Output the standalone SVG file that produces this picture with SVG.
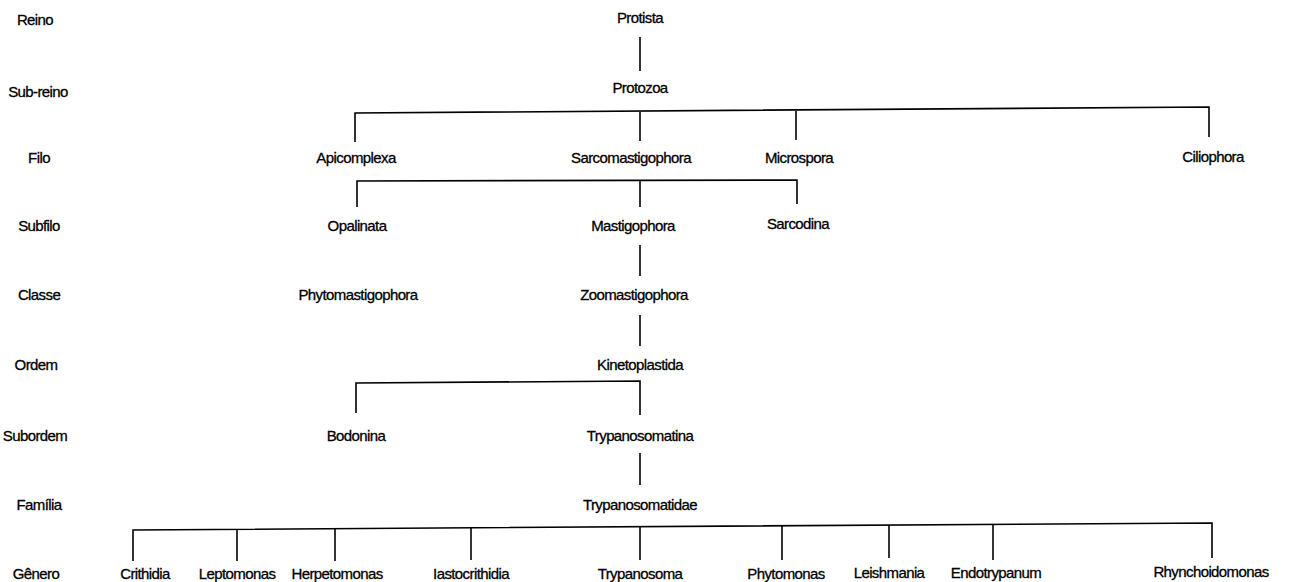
<svg xmlns="http://www.w3.org/2000/svg" width="1289" height="582" viewBox="0 0 1289 582">
  <style>
    text { font-family: "Liberation Sans", Arial, sans-serif; font-size: 15px; letter-spacing: -0.6px; fill: #000; stroke: #000; stroke-width: 0.3; text-anchor: middle; }
    .edge { fill: none; stroke: #000; stroke-width: 1.6; }
  </style>
  <rect width="1289" height="582" fill="#fff"/>

  <!-- rank labels -->
  <g id="ranks">
    <text x="35" y="25">Reino</text>
    <text x="38" y="97">Sub-reino</text>
    <text x="39" y="163">Filo</text>
    <text x="39" y="231">Subfilo</text>
    <text x="39" y="300">Classe</text>
    <text x="36" y="370">Ordem</text>
    <text x="35" y="441">Subordem</text>
    <text x="39" y="510">Família</text>
    <text x="36" y="579">Gênero</text>
  </g>

  <!-- connectors -->
  <g id="connectors" class="edge">
    <line x1="640" y1="37" x2="640" y2="71"/>
    <path d="M355,142 V113 L1209,107 V137"/>
    <line x1="640" y1="112" x2="640" y2="141"/>
    <line x1="796" y1="111" x2="796" y2="140"/>
    <path d="M357,207 V181 L797,180 V204"/>
    <line x1="640" y1="180" x2="640" y2="207"/>
    <line x1="640" y1="245" x2="640" y2="276"/>
    <line x1="640" y1="315" x2="640" y2="346"/>
    <path d="M356,413 V383 L640,381 V415"/>
    <line x1="640" y1="453" x2="640" y2="485"/>
    <path d="M133,561 V530 L1212,523 V558"/>
    <line x1="237" y1="529" x2="237" y2="561"/>
    <line x1="335" y1="529" x2="335" y2="561"/>
    <line x1="471" y1="528" x2="471" y2="560"/>
    <line x1="640" y1="526" x2="640" y2="560"/>
    <line x1="782" y1="526" x2="782" y2="560"/>
    <line x1="889" y1="525" x2="889" y2="558"/>
    <line x1="993" y1="524" x2="993" y2="560"/>
  </g>

  <!-- taxa -->
  <g id="protista"><text x="640" y="23">Protista</text></g>
  <g id="protozoa"><text x="640" y="93">Protozoa</text></g>
  <g id="apicomplexa"><text x="356" y="163">Apicomplexa</text></g>
  <g id="sarcomastigophora"><text x="631" y="163">Sarcomastigophora</text></g>
  <g id="microspora"><text x="799" y="163">Microspora</text></g>
  <g id="ciliophora"><text x="1213" y="162">Ciliophora</text></g>
  <g id="opalinata"><text x="357" y="231">Opalinata</text></g>
  <g id="mastigophora"><text x="633" y="231">Mastigophora</text></g>
  <g id="sarcodina"><text x="798" y="229">Sarcodina</text></g>
  <g id="phytomastigophora"><text x="358" y="300">Phytomastigophora</text></g>
  <g id="zoomastigophora"><text x="634" y="300">Zoomastigophora</text></g>
  <g id="kinetoplastida"><text x="640" y="370">Kinetoplastida</text></g>
  <g id="bodonina"><text x="356" y="441">Bodonina</text></g>
  <g id="trypanosomatina"><text x="640" y="441">Trypanosomatina</text></g>
  <g id="trypanosomatidae"><text x="640" y="510">Trypanosomatidae</text></g>
  <g id="crithidia"><text x="145" y="579">Crithidia</text></g>
  <g id="leptomonas"><text x="237" y="579">Leptomonas</text></g>
  <g id="herpetomonas"><text x="337" y="579">Herpetomonas</text></g>
  <g id="iastocrithidia"><text x="471" y="579">Iastocrithidia</text></g>
  <g id="trypanosoma"><text x="640" y="579">Trypanosoma</text></g>
  <g id="phytomonas"><text x="786" y="579">Phytomonas</text></g>
  <g id="leishmania"><text x="889" y="578">Leishmania</text></g>
  <g id="endotrypanum"><text x="996" y="578">Endotrypanum</text></g>
  <g id="rhynchoidomonas"><text x="1211" y="577">Rhynchoidomonas</text></g>
</svg>
